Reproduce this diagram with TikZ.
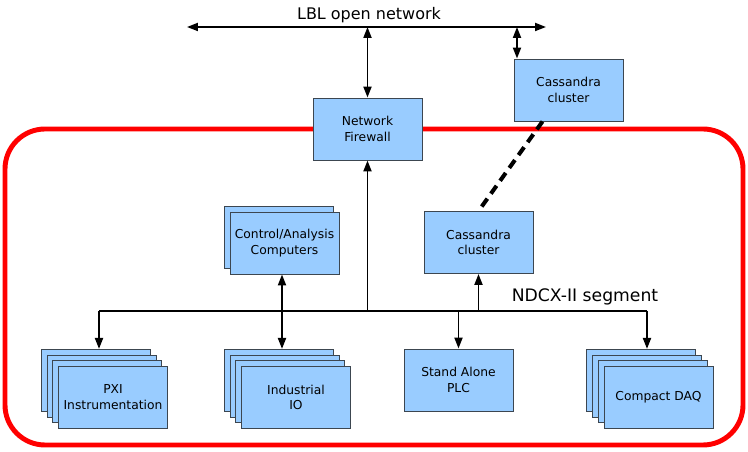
\documentclass[tikz,border=0pt]{standalone}
\usepackage{fontspec}
\setmainfont{DejaVu Sans}
\usetikzlibrary{arrows.meta}
\definecolor{boxblue}{HTML}{99CCFF}
\definecolor{boxedge}{HTML}{3C4650}
\definecolor{segred}{HTML}{FF0000}

\begin{document}
\begin{tikzpicture}[x=0.02cm, y=-0.02cm,
    unit/.style={draw=boxedge, fill=boxblue, line width=0.55pt, inner sep=0pt,
        minimum width=2.18cm, minimum height=1.24cm, align=center,
        font=\fontsize{7}{9}\selectfont},
    link/.style={line width=1.1pt},
    tip/.style={-{Triangle[length=2.2mm,width=1.6mm]}},
    tips/.style={{Triangle[length=2.2mm,width=1.6mm]}-{Triangle[length=2.2mm,width=1.6mm]}}]
    \useasboundingbox (0,0) rectangle (748,452);

    % the NDCX-II segment
    \draw[segred, line width=2.8pt, rounded corners=0.8cm] (5,129) rectangle (743,445);

    % open network backbone
    \coordinate (netL) at (187,27);
    \coordinate (netR) at (546,27);
    \coordinate (netcas) at (517,27);
    \draw[link, tips] (netL) -- (netR);
    \node[font=\fontsize{9.1}{11}\selectfont] (netlabel) at (369,15) {LBL open network};

    % boxes on the open side
    \node[unit] (fw) at (367.5,129) {Network\\Firewall};
    \node[unit] (castop) at (568.5,90) {Cassandra\\cluster};

    % boxes inside the segment
    \node[unit] (comp1) at (278.5,237.5) {};
    \node[unit] (comp) at (284.5,243) {Control/Analysis\\Computers};
    \node[unit] (caslow) at (478.5,242.5) {Cassandra\\cluster};

    \foreach \k in {3,2,1} {
        \node[unit] (pxi\k) at (113-5.7*\k,397.5-5.7*\k) {};
        \node[unit] (io\k) at (296-5.7*\k,397.5-5.7*\k) {};
        \node[unit] (daq\k) at (658.5-5.7*\k,397.5-5.7*\k) {};
    }
    \node[unit] (pxi) at (113,397.5) {PXI\\Instrumentation};
    \node[unit] (io) at (296,397.5) {Industrial\\IO};
    \node[unit] (plc) at (458.5,380) {Stand Alone\\PLC};
    \node[unit] (daq) at (658.5,397.5) {Compact DAQ};

    % segment bus
    \coordinate (busL) at (99,311);
    \coordinate (busR) at (647,311);
    \draw[link] (busL) -- (busR);
    \node[font=\fontsize{9.8}{12}\selectfont] (seglabel) at (585,297) {NDCX-II segment};

    % connectors
    \draw[link, tips] (fw.north |- netL) -- (fw.north);
    \draw[link, tips] (netcas) -- (netcas |- castop.north);
    \draw[link, tip] (fw.south |- busL) -- (fw.south);
    \draw[link, tip] (caslow.south |- busL) -- (caslow.south);
    \draw[link, tips] ([xshift=-0.05cm]comp.south) -- ([xshift=-0.05cm]comp.south |- io3.north);
    \draw[link, tip] (busL) -- (busL |- pxi3.north);
    \draw[link, tip] (plc.north |- busL) -- (plc.north);
    \draw[link, tip] (busR) -- (busR |- daq3.north);
    \draw[line width=2.3pt, dash pattern=on 5.5pt off 3.5pt] ([xshift=-0.52cm]castop.south) -- (caslow.north);
\end{tikzpicture}
\end{document}
